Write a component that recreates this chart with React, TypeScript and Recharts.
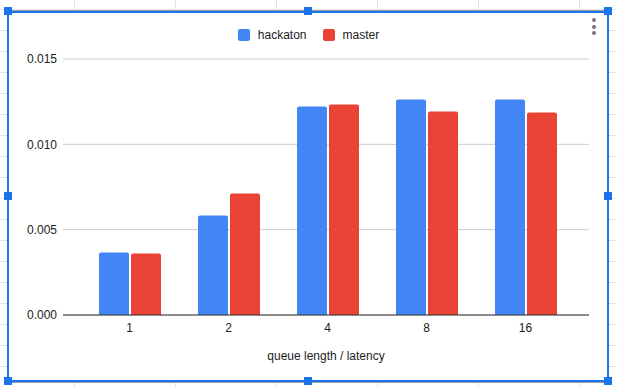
import React from 'react';
import { BarChart, Bar, XAxis, YAxis, CartesianGrid, Label } from 'recharts';

const categories = ['1', '2', '4', '8', '16'];
const hackaton = [0.00366, 0.00583, 0.01222, 0.01263, 0.01263];
const master = [0.0036, 0.00712, 0.01234, 0.01193, 0.01187];
const yTicks = [0, 0.005, 0.01, 0.015];
const seriesNames = ['hackaton', 'master'];
const seriesColors = ['#4285F4', '#EA4335'];
const xTitle = 'queue length / latency';

const data = categories.map((c, i) => ({ cat: c, hackaton: hackaton[i], master: master[i] }));

const FONT = '"Liberation Sans", Arial, sans-serif';
const W = 617;
const H = 387;
const BLUE = '#1a73e8';

const rowLines = Array.from({ length: 19 }, (_, k) => 9 + 21 * k);
const colLines = Array.from({ length: 6 }, (_, k) => 74 + 101 * k);
const handles = [
  [8, 11], [308, 11], [608, 11],
  [8, 196], [608, 196],
  [8, 381], [308, 381], [608, 381],
];

export default function App() {
  return (
    <div style={{ position: 'fixed', left: 0, top: 0, width: W, height: H, background: '#fff', overflow: 'hidden', fontFamily: FONT }}>
      {/* spreadsheet grid */}
      {rowLines.map((y) => (
        <div key={'r' + y} style={{ position: 'absolute', left: 0, top: y, width: W, height: 1, background: '#e2e3e3' }} />
      ))}
      {colLines.map((x) => (
        <div key={'c' + x} style={{ position: 'absolute', left: x, top: 0, width: 1, height: H, background: '#e2e3e3' }} />
      ))}
      {/* chart frame fill */}
      <div style={{ position: 'absolute', left: 9, top: 12, width: 598, height: 368, background: '#fff' }} />
      <div style={{ position: 'absolute', left: 7, top: 10, width: 602, height: 1, background: '#9aa0a6' }} />
      <div style={{ position: 'absolute', left: 7, top: 382, width: 602, height: 1, background: '#9aa0a6' }} />

      <div style={{ position: 'absolute', left: 0, top: 0 }}>
        <BarChart
          width={W}
          height={H}
          data={data}
          margin={{ top: 59, right: 28, bottom: 22, left: 0 }}
          barSize={30}
          barGap={2}
          style={{ fontFamily: FONT }}
        >
          <CartesianGrid vertical={false} stroke="#cccccc" />
          <XAxis
            dataKey="cat"
            height={50}
            padding={{ left: 17, right: 14 }}
            tickLine={false}
            axisLine={{ stroke: '#333333' }}
            tick={{ fill: '#222222', fontSize: 12, fontFamily: FONT }}
          >
            <Label value={xTitle} position="insideBottom" offset={5} fill="#222222" fontSize={12} fontFamily={FONT} />
          </XAxis>
          <YAxis
            width={63}
            domain={[0, 0.015]}
            ticks={yTicks}
            tickFormatter={(v: number) => v.toFixed(3)}
            tickLine={false}
            axisLine={false}
            tickMargin={0}
            tick={{ fill: '#222222', fontSize: 12, fontFamily: FONT }}
          />
          {seriesNames.map((name, i) => (
            <Bar key={name} dataKey={name} fill={seriesColors[i]} radius={[2, 2, 0, 0]} isAnimationActive={false} />
          ))}
        </BarChart>
      </div>

      {/* legend */}
      <div style={{ position: 'absolute', left: 0, top: 29, width: W, height: 12, display: 'flex', justifyContent: 'center', alignItems: 'center' }}>
        {seriesNames.map((name, i) => (
          <div key={name} style={{ display: 'flex', alignItems: 'center', marginLeft: i === 0 ? 0 : 16 }}>
            <div style={{ width: 12, height: 12, borderRadius: 2, background: seriesColors[i], marginRight: 8 }} />
            <span style={{ fontSize: 12, lineHeight: '12px', color: '#222222', fontFamily: FONT }}>{name}</span>
          </div>
        ))}
      </div>

      {/* menu dots */}
      {[20, 26.5, 33].map((y) => (
        <div key={'d' + y} style={{ position: 'absolute', left: 592, top: y - 2, width: 4, height: 4, borderRadius: 2, background: '#757575' }} />
      ))}

      {/* selection border */}
      <div style={{ position: 'absolute', left: 7, top: 11, width: 602, height: 371, boxSizing: 'border-box', border: `2px solid ${BLUE}` }} />
      {handles.map(([x, y]) => (
        <div key={'h' + x + '-' + y} style={{ position: 'absolute', left: x - 4, top: y - 4, width: 8, height: 8, background: BLUE }} />
      ))}
    </div>
  );
}
